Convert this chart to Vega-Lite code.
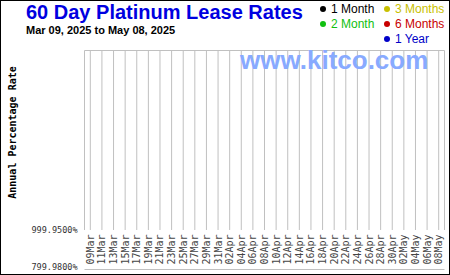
{
  "$schema": "https://vega.github.io/schema/vega-lite/v6.json",
  "width": 450,
  "height": 275,
  "autosize": {"type": "none"},
  "padding": 0,
  "background": "white",
  "config": {"view": {"stroke": "black", "strokeWidth": 2}, "font": "Liberation Sans"},
  "title": {
    "text": "60 Day Platinum Lease Rates",
    "subtitle": "Mar 09, 2025 to May 08, 2025",
    "anchor": "start",
    "frame": "group",
    "dx": 26,
    "offset": -36,
    "font": "Liberation Sans",
    "fontSize": 20,
    "fontWeight": "bold",
    "color": "#0000e0",
    "subtitleFont": "Liberation Sans",
    "subtitleFontSize": 11,
    "subtitleFontWeight": "bold",
    "subtitleColor": "black",
    "subtitlePadding": 2
  },
  "datasets": {
    "dates": [
      {"date": "2025-03-09"}, {"date": "2025-03-11"}, {"date": "2025-03-13"}, {"date": "2025-03-15"},
      {"date": "2025-03-17"}, {"date": "2025-03-19"}, {"date": "2025-03-21"}, {"date": "2025-03-23"},
      {"date": "2025-03-25"}, {"date": "2025-03-27"}, {"date": "2025-03-29"}, {"date": "2025-03-31"},
      {"date": "2025-04-02"}, {"date": "2025-04-04"}, {"date": "2025-04-06"}, {"date": "2025-04-08"},
      {"date": "2025-04-10"}, {"date": "2025-04-12"}, {"date": "2025-04-14"}, {"date": "2025-04-16"},
      {"date": "2025-04-18"}, {"date": "2025-04-20"}, {"date": "2025-04-22"}, {"date": "2025-04-24"},
      {"date": "2025-04-26"}, {"date": "2025-04-28"}, {"date": "2025-04-30"}, {"date": "2025-05-02"},
      {"date": "2025-05-04"}, {"date": "2025-05-06"}, {"date": "2025-05-08"}
    ],
    "series": [
      {"series": "1 Month"}, {"series": "3 Months"}, {"series": "2 Month"}, {"series": "6 Months"}, {"series": "1 Year"}
    ]
  },
  "resolve": {"axis": {"x": "independent", "y": "independent"}},
  "layer": [
    {
      "data": {"name": "dates"},
      "mark": {"type": "rule", "color": "#c0c0c0", "strokeWidth": 1},
      "encoding": {
        "x": {
          "field": "date",
          "type": "temporal",
          "scale": {
            "type": "utc",
            "domain": [{"year": 2025, "month": 3, "date": 8, "utc": true}, {"year": 2025, "month": 5, "date": 9, "utc": true}],
            "range": [84.5, 444.5]
          },
          "axis": {
            "orient": "bottom",
            "offset": -46,
            "values": [
              {"year": 2025, "month": 3, "date": 9, "utc": true}, {"year": 2025, "month": 3, "date": 11, "utc": true},
              {"year": 2025, "month": 3, "date": 13, "utc": true}, {"year": 2025, "month": 3, "date": 15, "utc": true},
              {"year": 2025, "month": 3, "date": 17, "utc": true}, {"year": 2025, "month": 3, "date": 19, "utc": true},
              {"year": 2025, "month": 3, "date": 21, "utc": true}, {"year": 2025, "month": 3, "date": 23, "utc": true},
              {"year": 2025, "month": 3, "date": 25, "utc": true}, {"year": 2025, "month": 3, "date": 27, "utc": true},
              {"year": 2025, "month": 3, "date": 29, "utc": true}, {"year": 2025, "month": 3, "date": 31, "utc": true},
              {"year": 2025, "month": 4, "date": 2, "utc": true}, {"year": 2025, "month": 4, "date": 4, "utc": true},
              {"year": 2025, "month": 4, "date": 6, "utc": true}, {"year": 2025, "month": 4, "date": 8, "utc": true},
              {"year": 2025, "month": 4, "date": 10, "utc": true}, {"year": 2025, "month": 4, "date": 12, "utc": true},
              {"year": 2025, "month": 4, "date": 14, "utc": true}, {"year": 2025, "month": 4, "date": 16, "utc": true},
              {"year": 2025, "month": 4, "date": 18, "utc": true}, {"year": 2025, "month": 4, "date": 20, "utc": true},
              {"year": 2025, "month": 4, "date": 22, "utc": true}, {"year": 2025, "month": 4, "date": 24, "utc": true},
              {"year": 2025, "month": 4, "date": 26, "utc": true}, {"year": 2025, "month": 4, "date": 28, "utc": true},
              {"year": 2025, "month": 4, "date": 30, "utc": true}, {"year": 2025, "month": 5, "date": 2, "utc": true},
              {"year": 2025, "month": 5, "date": 4, "utc": true}, {"year": 2025, "month": 5, "date": 6, "utc": true},
              {"year": 2025, "month": 5, "date": 8, "utc": true}
            ],
            "format": "%d%b",
            "labelAngle": 270,
            "labelAlign": "right",
            "labelBaseline": "middle",
            "labelPadding": 5,
            "ticks": false,
            "tickSize": 0,
            "domain": false,
            "grid": false,
            "title": null,
            "labelFont": "DejaVu Sans Mono",
            "labelFontSize": 10,
            "labelColor": "#444444",
            "labelOverlap": false,
            "labelFlush": false,
            "labelBound": false
          }
        },
        "y": {
          "datum": 999.95,
          "type": "quantitative",
          "scale": {"domain": [783.5, 1983.4], "range": [269.5, 50.5], "zero": false, "nice": false},
          "axis": {
            "orient": "left",
            "offset": -84,
            "values": [799.98, 999.95],
            "labelExpr": "format(datum.value, '.4f') + '%'",
            "ticks": false,
            "tickSize": 0,
            "domain": false,
            "grid": false,
            "labelPadding": 7,
            "labelFont": "DejaVu Sans Mono",
            "labelFontSize": 8.5,
            "labelColor": "#333333",
            "labelBaseline": "middle",
            "title": "Annual Percentage Rate",
            "titleFont": "DejaVu Sans Mono",
            "titleFontSize": 10,
            "titleFontWeight": "bold",
            "titleColor": "black",
            "titleX": -72,
            "titleY": 132,
            "titleAngle": 270,
            "titleAlign": "center",
            "titleBaseline": "middle"
          }
        },
        "y2": {"datum": 1983.4}
      }
    },
    {
      "data": {"values": [{}]},
      "mark": {"type": "rule", "color": "#c0c0c0", "strokeWidth": 1},
      "encoding": {
        "x": {"datum": {"year": 2025, "month": 3, "date": 8, "utc": true}, "type": "temporal", "axis": null},
        "y": {"datum": 999.95, "type": "quantitative", "axis": null},
        "y2": {"datum": 1983.4}
      }
    },
    {
      "data": {"values": [{}]},
      "mark": {"type": "rule", "color": "#c0c0c0", "strokeWidth": 1},
      "encoding": {
        "x": {"datum": {"year": 2025, "month": 5, "date": 9, "utc": true}, "type": "temporal", "axis": null},
        "y": {"datum": 999.95, "type": "quantitative", "axis": null},
        "y2": {"datum": 1983.4}
      }
    },
    {
      "data": {"values": [{}]},
      "mark": {"type": "rule", "color": "#c0c0c0", "strokeWidth": 1},
      "encoding": {
        "x": {"datum": {"year": 2025, "month": 3, "date": 8, "utc": true}, "type": "temporal", "axis": null},
        "x2": {"datum": {"year": 2025, "month": 5, "date": 9, "utc": true}},
        "y": {"datum": 1983.4, "type": "quantitative", "axis": null}
      }
    },
    {
      "data": {"values": [{}]},
      "mark": {"type": "rule", "color": "#c0c0c0", "strokeWidth": 1},
      "encoding": {
        "x": {"datum": {"year": 2025, "month": 3, "date": 8, "utc": true}, "type": "temporal", "axis": null},
        "x2": {"datum": {"year": 2025, "month": 5, "date": 9, "utc": true}},
        "y": {"datum": 783.5, "type": "quantitative", "axis": null}
      }
    },
    {
      "data": {"values": [{}]},
      "mark": {"type": "text", "text": "www.kitco.com", "font": "Liberation Sans", "fontSize": 26, "fontWeight": "bold", "fill": "#88aaff", "align": "center", "baseline": "alphabetic"},
      "encoding": {
        "x": {"datum": {"year": 2025, "month": 4, "date": 20, "utc": true}, "type": "temporal", "axis": null},
        "y": {"datum": 1884.7, "type": "quantitative", "axis": null}
      }
    },
    {
      "data": {"name": "series"},
      "mark": {"type": "point", "filled": true, "opacity": 0},
      "encoding": {
        "color": {
          "field": "series",
          "type": "nominal",
          "scale": {
            "domain": ["1 Month", "3 Months", "2 Month", "6 Months", " ", "1 Year"],
            "range": ["#000000", "#c8c000", "#10c010", "#c80000", "#ffffff", "#0000c8"]
          },
          "legend": {
            "orient": "none",
            "legendX": 317,
            "legendY": 3,
            "direction": "horizontal",
            "columns": 2,
            "title": null,
            "symbolType": "circle",
            "symbolSize": 36,
            "symbolOpacity": 1,
            "symbolStrokeWidth": 0,
            "labelFont": "Liberation Sans",
            "labelFontSize": 12,
            "labelOffset": 2,
            "columnPadding": 6,
            "rowPadding": 3,
            "padding": 0,
            "encode": {"labels": {"update": {"fill": {"scale": "color", "field": "value"}}}}
          }
        }
      }
    }
  ]
}
